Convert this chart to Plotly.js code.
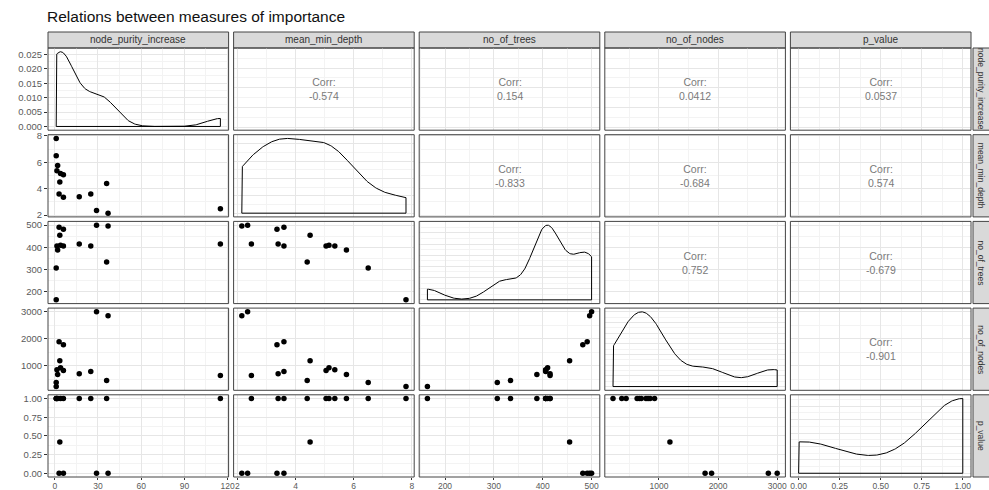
<!DOCTYPE html>
<html><head><meta charset="utf-8">
<script src="https://cdn.plot.ly/plotly-3.0.1.min.js"></script>
<style>html,body{margin:0;padding:0;background:#fff;overflow:hidden}</style>
</head><body><div id="chart" style="width:989px;height:490px"></div>
<script>
// ---- data (15 variables of the forest) ----
const varNames = ["node_purity_increase", "mean_min_depth", "no_of_trees", "no_of_nodes", "p_value"];
const node_purity_increase = [1.0, 1.0, 2.0, 1.5, 4.0, 6.0, 3.0, 6.0, 3.5, 17, 25, 36, 29, 37, 115];
const mean_min_depth       = [7.8, 6.5, 5.75, 5.35, 5.15, 5.05, 3.6, 3.36, 4.5, 3.4, 3.6, 4.4, 2.35, 2.15, 2.48];
const no_of_trees          = [164, 307, 388, 406, 410, 406, 491, 482, 455, 415, 406, 334, 500, 496, 415];
const no_of_nodes          = [222, 370, 667, 850, 925, 815, 1890, 1780, 1185, 700, 780, 444, 3000, 2850, 630];
const p_value              = [1, 1, 1, 1, 1, 1, 0, 0, 0.42, 1, 1, 1, 0, 0, 1];

// tick labels
const npiTicks = [0, 30, 60, 90, 120];       const npiLabels = ["0", "30", "60", "90", "120"];
const mmdTicks = [2, 4, 6, 8];               const mmdLabels = ["2", "4", "6", "8"];
const treesTicks = [200, 300, 400, 500];     const treesLabels = ["200", "300", "400", "500"];
const nodesTicks = [1000, 2000, 3000];       const nodesLabels = ["1000", "2000", "3000"];
const pTicks = [0, 0.25, 0.5, 0.75, 1];      const pLabels = ["0.00", "0.25", "0.50", "0.75", "1.00"];

// correlation labels in the upper panels (row, col) order
const corrLabels = {
  "0,1": "-0.574", "0,2": "0.154", "0,3": "0.0412", "0,4": "0.0537",
  "1,2": "-0.833", "1,3": "-0.684", "1,4": "0.574",
  "2,3": "0.752", "2,4": "-0.679",
  "3,4": "-0.901"
};
const titleText = "Relations between measures of importance";

// ---- helpers ----
const series = [node_purity_increase, mean_min_depth, no_of_trees, no_of_nodes, p_value];
const tickVals = [npiTicks, mmdTicks, treesTicks, nodesTicks, pTicks];
const tickTexts = [npiLabels, mmdLabels, treesLabels, nodesLabels, pLabels];

function rng(a) { const mn = Math.min(...a), mx = Math.max(...a), s = mx - mn; return [mn - 0.05 * s, mx + 0.05 * s]; }
function quant(s, p) { const h = (s.length - 1) * p, lo = Math.floor(h); const hi = Math.min(lo + 1, s.length - 1); return s[lo] + (h - lo) * (s[hi] - s[lo]); }
function bwNrd0(x) {
  const n = x.length, m = x.reduce((a, b) => a + b, 0) / n;
  const sd = Math.sqrt(x.reduce((a, b) => a + (b - m) * (b - m), 0) / (n - 1));
  const s = [...x].sort((a, b) => a - b);
  let lo = Math.min(sd, (quant(s, 0.75) - quant(s, 0.25)) / 1.34);
  if (!(lo > 0)) lo = sd || 1;
  return 0.9 * lo * Math.pow(n, -0.2);
}
function kde(x) {
  const bw = bwNrd0(x), mn = Math.min(...x), mx = Math.max(...x), N = 300;
  const gx = [], gy = [];
  for (let i = 0; i < N; i++) {
    const t = mn + (mx - mn) * i / (N - 1); let s = 0;
    for (const v of x) { const z = (t - v) / bw; s += Math.exp(-0.5 * z * z); }
    gx.push(t); gy.push(s / (x.length * bw * Math.sqrt(2 * Math.PI)));
  }
  return { gx, gy };
}
function prettyStep(mx) {
  const raw = mx / 5, p = Math.pow(10, Math.floor(Math.log10(raw))), f = raw / p;
  return (f < 1.5 ? 1 : f < 3.5 ? 2 : f < 7.5 ? 5 : 10) * p;
}
function minorOf(t, r) {
  const st = t[1] - t[0], out = [];
  for (let i = -1; i < t.length; i++) { const v = t[0] + st * (i + 0.5); if (v >= r[0] && v <= r[1]) out.push(v); }
  return out;
}

// ---- geometry (pixels) ----
const W = 989, H = 490;
const L = 48, R = 971, T = 48, B = 477, gx = 5, gy = 4.5;
const cw = (R - L - 4 * gx) / 5, rh = (B - T - 4 * gy) / 5;
const px = v => v / W, py = v => 1 - v / H;
const colX = c => [L + c * (cw + gx), L + c * (cw + gx) + cw];
const rowY = r => [T + r * (rh + gy), T + r * (rh + gy) + rh];

const FONT = "Liberation Sans, Arial, sans-serif";
const MAJ = "#e6e6e6", MIN = "#f3f3f3", TXT = "#5a5a5a";

const traces = [], layout = {
  width: W, height: H, margin: { l: 0, r: 0, t: 0, b: 0 },
  paper_bgcolor: "#fff", plot_bgcolor: "#fff", showlegend: false,
  font: { family: FONT, color: TXT, size: 9 },
  title: { text: titleText, x: px(L - 1), xanchor: "left", xref: "paper", y: py(17), yanchor: "middle", yref: "paper",
           font: { family: FONT, size: 15.5, color: "#111" } },
  shapes: [], annotations: []
};

const ranges = series.map(rng);

for (let r = 0; r < 5; r++) {
  for (let c = 0; c < 5; c++) {
    const k = r * 5 + c + 1, xs = k === 1 ? "" : String(k);
    const [x0, x1] = colX(c), [y0, y1] = rowY(r);
    const xr = ranges[c];
    let yr, yt, ytt, ymin;
    if (r === c) {
      const d = kde(series[c]);
      const dmax = Math.max(...d.gy);
      yr = [-0.05 * dmax, 1.05 * dmax];
      const st = prettyStep(dmax); yt = []; for (let v = 0; v <= yr[1] + 1e-12; v += st) yt.push(+v.toFixed(10));
      ytt = yt.map(v => v.toFixed(3));
      ymin = minorOf(yt, yr);
      const mn = Math.min(...series[c]), mx = Math.max(...series[c]);
      traces.push({ type: "scatter", mode: "lines", x: [mn, ...d.gx, mx, mn], y: [0, ...d.gy, 0, 0],
        xaxis: "x" + xs, yaxis: "y" + xs, line: { color: "#000", width: 1 }, hoverinfo: "skip" });
    } else {
      yr = ranges[r]; yt = tickVals[r]; ytt = tickTexts[r]; ymin = minorOf(yt, yr);
      if (r > c) {
        traces.push({ type: "scatter", mode: "markers", x: series[c], y: series[r],
          xaxis: "x" + xs, yaxis: "y" + xs, marker: { color: "#000", size: 5.5 }, hoverinfo: "skip" });
      } else {
        traces.push({ type: "scatter", mode: "markers", x: [], y: [], xaxis: "x" + xs, yaxis: "y" + xs, hoverinfo: "skip" });
        layout.annotations.push({ xref: "paper", yref: "paper", x: px((x0 + x1) / 2), y: py((y0 + y1) / 2),
          xanchor: "center", yanchor: "middle",
          text: "Corr:<br>" + corrLabels[r + "," + c], showarrow: false, align: "center",
          font: { family: FONT, size: 10.5, color: "#7a7a7a" } });
      }
    }
    const bottom = r === 4, left = c === 0;
    layout["xaxis" + xs] = {
      domain: [px(x0), px(x1)], anchor: "y" + xs, range: xr, tickmode: "array",
      tickvals: tickVals[c], ticktext: tickTexts[c], showticklabels: bottom,
      ticks: bottom ? "outside" : "", ticklen: 2, tickcolor: "#333", tickwidth: 1, ticklabelstandoff: -1,
      showgrid: true, gridcolor: MAJ, gridwidth: 1, zeroline: false, showline: false,
      minor: { tickmode: "array", tickvals: minorOf(tickVals[c], xr), showgrid: true, gridcolor: MIN, gridwidth: 1, ticks: "" },
      tickfont: { family: FONT, size: 8.5, color: TXT }, fixedrange: true
    };
    layout["yaxis" + xs] = {
      domain: [py(y1), py(y0)], anchor: "x" + xs, range: yr, tickmode: "array",
      tickvals: yt, ticktext: ytt, showticklabels: left,
      ticks: left ? "outside" : "", ticklen: 3, tickcolor: "#333", tickwidth: 1,
      showgrid: true, gridcolor: MAJ, gridwidth: 1, zeroline: false, showline: false,
      minor: { tickmode: "array", tickvals: ymin, showgrid: true, gridcolor: MIN, gridwidth: 1, ticks: "" },
      tickfont: { family: FONT, size: 9.5, color: TXT }, fixedrange: true
    };
    // panel border
    layout.shapes.push({ type: "rect", xref: "paper", yref: "paper", x0: px(x0), x1: px(x1), y0: py(y1), y1: py(y0),
      line: { color: "#444", width: 1 }, fillcolor: "rgba(0,0,0,0)", layer: "above" });
  }
}

// strips
for (let c = 0; c < 5; c++) {
  const [x0, x1] = colX(c);
  layout.shapes.push({ type: "rect", xref: "paper", yref: "paper", x0: px(x0), x1: px(x1), y0: py(T), y1: py(32),
    line: { color: "#444", width: 1 }, fillcolor: "#d9d9d9", layer: "below" });
  layout.annotations.push({ xref: "paper", yref: "paper", x: px((x0 + x1) / 2), y: py(40), text: varNames[c],
    xanchor: "center", yanchor: "middle",
    showarrow: false, font: { family: FONT, size: 10, color: "#333" } });
}
for (let r = 0; r < 5; r++) {
  const [y0, y1] = rowY(r);
  layout.shapes.push({ type: "rect", xref: "paper", yref: "paper", x0: px(973), x1: px(996), y0: py(y1), y1: py(y0),
    line: { color: "#444", width: 1 }, fillcolor: "#d9d9d9", layer: "below" });
  layout.annotations.push({ xref: "paper", yref: "paper", x: px(981), y: py((y0 + y1) / 2), text: varNames[r],
    xanchor: "center", yanchor: "middle",
    textangle: 90, showarrow: false, font: { family: FONT, size: 8.5, color: "#333" } });
}

Plotly.newPlot("chart", traces, layout, { staticPlot: true, displayModeBar: false });
</script></body></html>
